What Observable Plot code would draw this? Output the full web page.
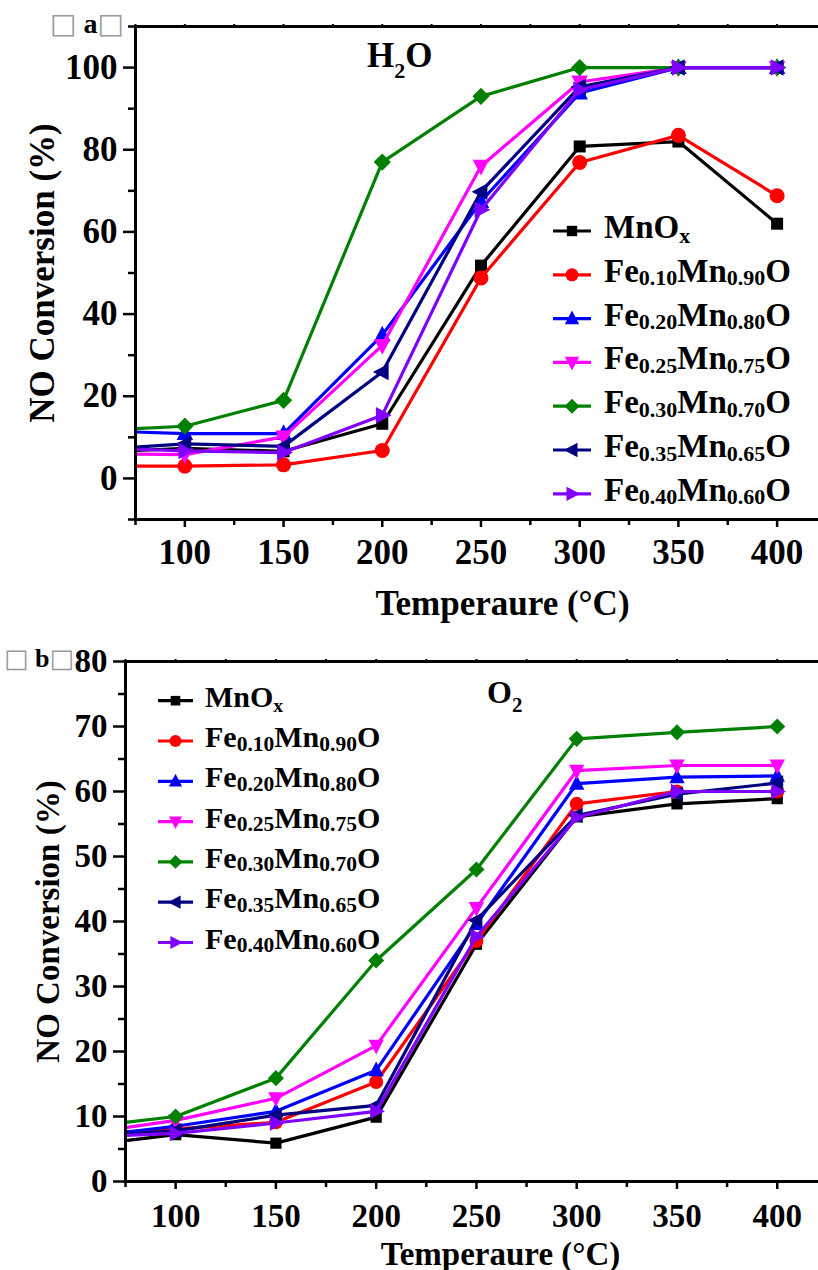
<!DOCTYPE html>
<html>
<head>
<meta charset="utf-8">
<script src="https://cdn.jsdelivr.net/npm/d3@7"></script>
<script src="https://cdn.jsdelivr.net/npm/@observablehq/plot@0.6"></script>
<style>
html, body { margin: 0; padding: 0; background: #fff; overflow: hidden; width: 818px; height: 1270px; }
#root { position: relative; width: 818px; height: 1270px; overflow: hidden; background: #fff; }
</style>
</head>
<body>
<div id="root"></div>
<script>
// ---------- data ----------
const temps = [75, 100, 150, 200, 250, 300, 350, 400];
const seriesLabels = ["MnO_x", "Fe_{0.10}Mn_{0.90}O", "Fe_{0.20}Mn_{0.80}O", "Fe_{0.25}Mn_{0.75}O",
                      "Fe_{0.30}Mn_{0.70}O", "Fe_{0.35}Mn_{0.65}O", "Fe_{0.40}Mn_{0.60}O"];
const seriesColors = ["#000000", "#ff0000", "#0000ff", "#ff00ff", "#008000", "#000080", "#8000ff"];

// panel (a) H2O
const aMnOx = [6.8, 7.3, 6.6, 13.3, 51.8, 80.8, 82.0, 62.0];
const aFe10 = [3.0, 3.0, 3.3, 6.8, 48.8, 76.9, 83.5, 68.8];
const aFe20 = [11.3, 10.9, 10.9, 34.9, 67.4, 93.8, 100, 100];
const aFe25 = [5.9, 5.8, 10.1, 32.4, 76.0, 96.5, 100, 100];
const aFe30 = [12.1, 12.7, 19.0, 77.0, 93.0, 100, 100, 100];
const aFe35 = [7.6, 8.4, 7.8, 25.9, 69.8, 95.3, 100, 100];
const aFe40 = [7.1, 6.7, 6.3, 15.4, 65.4, 94.6, 100, 100];

// panel (b) O2
const bMnOx = [6.3, 7.2, 5.9, 9.9, 36.5, 56.1, 58.1, 58.9];
const bFe10 = [7.6, 8.1, 9.1, 15.3, 37.0, 58.1, 60.0, 60.0];
const bFe20 = [7.6, 8.5, 10.8, 17.1, 39.6, 61.2, 62.2, 62.4];
const bFe25 = [8.3, 9.4, 12.8, 20.9, 42.1, 63.2, 64.0, 64.0];
const bFe30 = [9.1, 10.0, 15.9, 34.0, 48.0, 68.1, 69.1, 70.0];
const bFe35 = [7.3, 7.8, 10.2, 11.7, 40.2, 56.3, 59.6, 61.3];
const bFe40 = [7.1, 7.4, 9.0, 10.8, 37.7, 56.0, 60.0, 60.0];

const xTicks = [100, 150, 200, 250, 300, 350, 400];
const xMinor = [75, 125, 175, 225, 275, 325, 375, 425];
const yTicksA = [0, 20, 40, 60, 80, 100];
const yMinorA = [-10, 10, 30, 50, 70, 90, 110];
const yTicksB = [0, 10, 20, 30, 40, 50, 60, 70, 80];
const yMinorB = [5, 15, 25, 35, 45, 55, 65, 75];

// ---------- symbols ----------
const rad = s => Math.sqrt(s / Math.PI);
const symSquare = {draw(c, s) { const h = 0.8 * rad(s); c.rect(-h, -h, 2 * h, 2 * h); }};
const symCircle = d3.symbolCircle;
const symTriUp = {draw(c, s) { const r = rad(s); c.moveTo(0, -1.25 * r); c.lineTo(1.1 * r, 0.85 * r); c.lineTo(-1.1 * r, 0.85 * r); c.closePath(); }};
const symTriDown = {draw(c, s) { const r = rad(s); c.moveTo(0, 1.25 * r); c.lineTo(1.1 * r, -0.85 * r); c.lineTo(-1.1 * r, -0.85 * r); c.closePath(); }};
const symDiamond = {draw(c, s) { const d = 1.15 * rad(s); c.moveTo(0, -d); c.lineTo(d, 0); c.lineTo(0, d); c.lineTo(-d, 0); c.closePath(); }};
const symTriLeft = {draw(c, s) { const r = rad(s); c.moveTo(-1.25 * r, 0); c.lineTo(0.85 * r, -1.1 * r); c.lineTo(0.85 * r, 1.1 * r); c.closePath(); }};
const symTriRight = {draw(c, s) { const r = rad(s); c.moveTo(1.25 * r, 0); c.lineTo(-0.85 * r, -1.1 * r); c.lineTo(-0.85 * r, 1.1 * r); c.closePath(); }};
const seriesSymbols = [symSquare, symCircle, symTriUp, symTriDown, symDiamond, symTriLeft, symTriRight];

const FONT = "'Liberation Serif', 'Times New Roman', serif";

function makePanel(cfg) {
  const marks = [];
  cfg.series.forEach((vals, i) => {
    const rows = temps.map((t, j) => ({t, v: vals[j]}));
    marks.push(Plot.line(rows, {x: "t", y: "v", stroke: seriesColors[i], strokeWidth: 3.2}));
    marks.push(Plot.dot(rows.filter(d => d.t >= 100), {x: "t", y: "v", fill: seriesColors[i], stroke: "none", symbol: seriesSymbols[i], r: cfg.r}));
  });
  const svg = Plot.plot({
    width: cfg.width, height: cfg.height,
    marginLeft: cfg.marginLeft, marginRight: 0, marginTop: cfg.marginTop, marginBottom: cfg.marginBottom,
    x: {domain: cfg.xDomain},
    y: {domain: cfg.yDomain},
    style: {fontFamily: FONT, fontSize: cfg.fontSize + "px", fontWeight: "bold", maxWidth: "none",
            background: "transparent", color: "#000", overflow: "visible"},
    marks: [
      Plot.axisY(cfg.yMinor, {anchor: "left", tickSize: 7, strokeWidth: 2.5, fill: "none"}),
      Plot.axisY(cfg.yTicks, {anchor: "left", tickSize: 12, tickPadding: 6, strokeWidth: 2.5,
        tickFormat: d => String(d), label: "NO Conversion (%)", labelAnchor: "center", labelArrow: "none",
        labelOffset: cfg.yLabelOffset}),
      Plot.axisX(xMinor, {anchor: "bottom", tickSize: 6, strokeWidth: 2.5, fill: "none"}),
      Plot.axisX(xTicks, {anchor: "bottom", tickSize: 8, tickPadding: cfg.xPad, strokeWidth: 2.5,
        tickFormat: d => String(d), label: "Temperaure (°C)", labelAnchor: "center", labelArrow: "none",
        labelOffset: cfg.xLabelOffset}),
      Plot.axisX(xTicks.concat(xMinor), {anchor: "top", tickSize: 3, strokeWidth: 2, fill: "none"}),
      ...marks,
      Plot.frame({stroke: "#000", strokeWidth: 3})
    ]
  });
  svg.style.position = "absolute";
  svg.style.left = "0px";
  svg.style.top = cfg.top + "px";
  return svg;
}

const root = document.getElementById("root");
root.appendChild(makePanel({
  top: 0, width: 869, height: 630, marginLeft: 135, marginTop: 26, marginBottom: 111,
  xDomain: [75, 446.8], yDomain: [-10, 110], yTicks: yTicksA, yMinor: yMinorA,
  series: [aMnOx, aFe10, aFe20, aFe25, aFe30, aFe35, aFe40],
  r: 7.5, fontSize: 35, xPad: 12, yLabelOffset: 106, xLabelOffset: 95
}));
root.appendChild(makePanel({
  top: 630, width: 875, height: 640, marginLeft: 125, marginTop: 31, marginBottom: 89,
  xDomain: [75, 449], yDomain: [0, 80], yTicks: yTicksB, yMinor: yMinorB,
  series: [bMnOx, bFe10, bFe20, bFe25, bFe30, bFe35, bFe40],
  r: 7, fontSize: 33, xPad: 14, yLabelOffset: 90, xLabelOffset: 83
}));

// ---------- overlay: legends and labels ----------
const ov = d3.create("svg").attr("width", 818).attr("height", 1270)
  .style("position", "absolute").style("left", "0px").style("top", "0px")
  .style("font-family", FONT).style("font-weight", "bold").style("pointer-events", "none");

function richText(g, label, x, y, size, subSize, subShift) {
  const t = g.append("text").attr("x", x).attr("y", y).attr("font-size", size).attr("fill", "#000");
  const re = /_\{([^}]*)\}|_(\w)/g;
  let last = 0, m, pending = 0;
  while ((m = re.exec(label))) {
    if (m.index > last) {
      const ts = t.append("tspan").text(label.slice(last, m.index));
      if (pending) { ts.attr("dy", pending); pending = 0; }
    }
    t.append("tspan").attr("font-size", subSize).attr("dy", subShift).text(m[1] !== undefined ? m[1] : m[2]);
    pending = -subShift;
    last = re.lastIndex;
  }
  if (last < label.length) {
    const ts = t.append("tspan").text(label.slice(last));
    if (pending) ts.attr("dy", pending);
  }
  return t;
}

function legend(cfg) {
  const g = ov.append("g");
  seriesLabels.forEach((lab, i) => {
    const y = cfg.y0 + i * cfg.step;
    g.append("line").attr("x1", cfg.x1).attr("x2", cfg.x2).attr("y1", y).attr("y2", y)
      .attr("stroke", seriesColors[i]).attr("stroke-width", 3.2);
    g.append("path").attr("d", d3.symbol(seriesSymbols[i], Math.PI * cfg.r * cfg.r)())
      .attr("transform", `translate(${(cfg.x1 + cfg.x2) / 2},${y})`).attr("fill", seriesColors[i]);
    const isX = i === 0;
    richText(g, lab, cfg.tx, y + cfg.base, cfg.size, isX ? cfg.size * 0.66 : cfg.sub, isX ? 5 : 3.5);
  });
}

legend({y0: 231, step: 43.8, x1: 553, x2: 591, tx: 604, base: 7, size: 33, sub: 22, r: 6.5});
legend({y0: 700.7, step: 40.3, x1: 158, x2: 193, tx: 205, base: 6, size: 30, sub: 21.5, r: 6});

richText(ov, "H_2O", 367, 66.7, 35, 22, 11);
richText(ov, "O_2", 487, 703, 32, 21, 8.5);

function panelTag(letter, x, y, size) {
  const t = ov.append("text").attr("x", x).attr("y", y).attr("font-size", size);
  t.append("tspan").attr("font-family", "'DejaVu Sans'").attr("font-weight", "normal").attr("fill", "#999").text("□");
  t.append("tspan").attr("fill", "#000").text(" " + letter);
  t.append("tspan").attr("font-family", "'DejaVu Sans'").attr("font-weight", "normal").attr("fill", "#999").text("□");
}
panelTag("a", 50, 33, 28);
panelTag("b", 4, 667, 26);

root.appendChild(ov.node());
</script>
</body>
</html>
